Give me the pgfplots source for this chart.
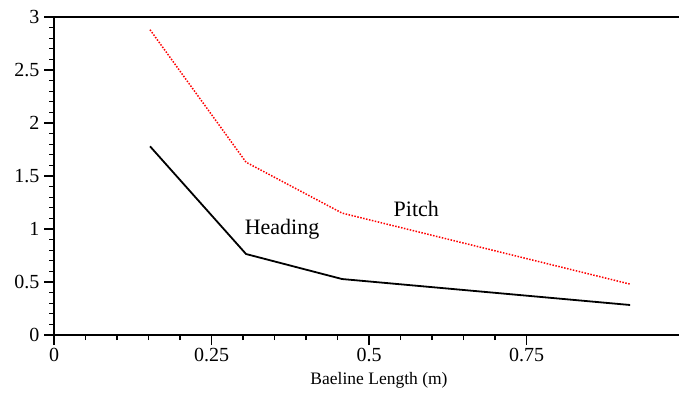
\documentclass[border=0pt]{standalone}
\usepackage{fontspec}
\setmainfont{Liberation Serif}
\usepackage{pgfplots}
\pgfplotsset{compat=1.18}
\begin{document}
\begin{tikzpicture}
\useasboundingbox (0,0) rectangle (679pt,393pt);
\begin{axis}[
  at={(54pt,58pt)}, anchor=south west,
  scale only axis, width=625pt, height=318pt,
  xmin=0, xmax=0.992, ymin=0, ymax=3,
  axis x line=box, axis y line=left,
  axis line style={line width=1.6pt, -},
  xtick pos=bottom, ytick pos=left,
  xtick={0,0.25,0.5,0.75}, ytick={0,0.5,1,1.5,2,2.5,3},
  minor x tick num=4, minor y tick num=4,
  tick align=outside,
  major tick length=10pt, minor tick length=5pt,
  every tick/.style={black, line width=1.3pt},
  /pgf/number format/assume math mode=true,
  ticklabel style={font=\fontsize{20}{22}\selectfont},
  yticklabel style={xshift=-1pt},
  xlabel={Baeline Length (m)},
  xlabel style={font=\fontsize{17.5}{19}\selectfont, at={(axis description cs:0.52,0)}, anchor=center, yshift=-45pt},
  clip=false,
]
\addplot[black, line width=1.8pt] coordinates {(0.1524,1.78) (0.3048,0.764) (0.4572,0.528) (0.9144,0.283)};
\addplot[red, line width=1.5pt, dash pattern=on 1.5pt off 1.5pt] coordinates {(0.1524,2.88) (0.3048,1.63) (0.4572,1.15) (0.9144,0.48)};
\node[font=\fontsize{22}{24}\selectfont] at (axis cs:0.362,1.0) {Heading};
\node[font=\fontsize{22}{24}\selectfont] at (axis cs:0.575,1.19) {Pitch};
\end{axis}
\end{tikzpicture}
\end{document}
